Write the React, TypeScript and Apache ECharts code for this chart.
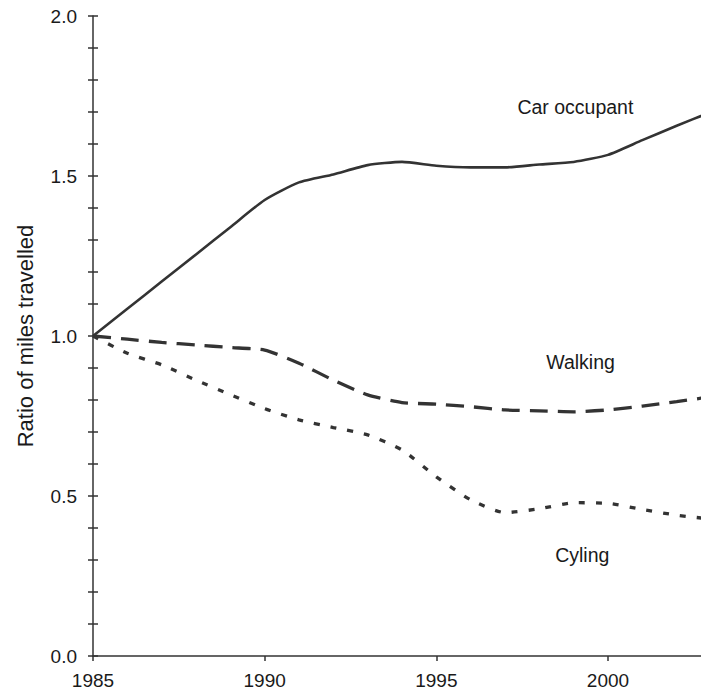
import React, { useEffect, useRef } from "react";
import * as echarts from "echarts";

const years = [1985, 1986, 1987, 1988, 1989, 1990, 1991, 1992, 1993, 1994, 1995, 1996, 1997, 1998, 1999, 2000, 2001, 2002, 2003];
const carOccupant = [1.0, 1.085, 1.17, 1.255, 1.34, 1.425, 1.48, 1.505, 1.534, 1.544, 1.532, 1.527, 1.527, 1.536, 1.544, 1.566, 1.612, 1.657, 1.7];
const walking = [1.0, 0.99, 0.98, 0.972, 0.964, 0.956, 0.915, 0.862, 0.816, 0.792, 0.787, 0.779, 0.769, 0.766, 0.763, 0.769, 0.781, 0.795, 0.81];
const cycling = [1.0, 0.946, 0.91, 0.862, 0.817, 0.773, 0.738, 0.714, 0.691, 0.644, 0.56, 0.488, 0.448, 0.46, 0.479, 0.477, 0.458, 0.44, 0.428];
const xTickLabels = [1985, 1990, 1995, 2000];
const seriesNames = ["Car occupant", "Walking", "Cyling"];
const labelAnchors = [
  [1999.05, 1.716],
  [1999.2, 0.919],
  [1999.25, 0.316],
];

const FONT = "'Liberation Sans', Arial, sans-serif";
const TEXT = "#1a1a1a";
const LINE = "#333";

export default function App() {
  const ref = useRef<HTMLDivElement>(null);
  useEffect(() => {
    if (!ref.current) return;
    const chart = echarts.init(ref.current, null, { renderer: "svg" });
    const pairs = (vals: number[]) => years.map((y, i) => [y, vals[i]]);
    const dashes = [undefined, [18, 10], [6, 11]];
    const widths = [2.6, 3.3, 3.3];
    const values = [carOccupant, walking, cycling];
    chart.setOption({
      animation: false,
      backgroundColor: "#fff",
      grid: { left: 93, right: -10, top: 16, bottom: 35, containLabel: false, outerBoundsMode: "none" },
      xAxis: {
        type: "value",
        min: 1985,
        max: 2003,
        interval: 5,
        axisLine: { show: true, lineStyle: { color: LINE, width: 1.5 } },
        axisTick: { show: true, length: 5, inside: false, customValues: xTickLabels, lineStyle: { color: LINE, width: 1.5 } },
        axisLabel: { customValues: xTickLabels, fontFamily: FONT, fontSize: 19, color: TEXT, margin: 15, formatter: (v: number) => String(v) },
        splitLine: { show: false },
      },
      yAxis: [
        {
          type: "value",
          min: 0,
          max: 2,
          interval: 0.5,
          position: "left",
          name: "Ratio of miles travelled",
          nameLocation: "middle",
          nameRotate: 90,
          nameGap: 57,
          nameTextStyle: { fontFamily: FONT, fontSize: 22, color: TEXT },
          axisLine: { show: true, lineStyle: { color: LINE, width: 1.5 } },
          axisTick: { show: true, length: 5, inside: false, lineStyle: { color: LINE, width: 1.5 } },
          minorTick: { show: true, splitNumber: 5, length: 5, lineStyle: { color: LINE, width: 1.5 } },
          axisLabel: { fontFamily: FONT, fontSize: 19, color: TEXT, margin: 16, formatter: (v: number) => v.toFixed(1) },
          splitLine: { show: false },
          minorSplitLine: { show: false },
        },
        {
          type: "value",
          min: 0,
          max: 2,
          interval: 0.5,
          position: "left",
          offset: 0,
          axisLine: { show: false },
          axisTick: { show: true, length: 5, inside: true, lineStyle: { color: LINE, width: 1.5 } },
          minorTick: { show: true, splitNumber: 5, length: 5, lineStyle: { color: LINE, width: 1.5 } },
          axisLabel: { show: false },
          splitLine: { show: false },
          minorSplitLine: { show: false },
        },
      ],
      series: seriesNames.map((name, i) => ({
        name,
        type: "line",
        yAxisIndex: 0,
        data: pairs(values[i]),
        smooth: 0.2,
        symbol: "none",
        clip: true,
        lineStyle: { color: LINE, width: widths[i], type: dashes[i] ?? "solid" },
        markPoint: {
          symbol: "circle",
          symbolSize: 0,
          silent: true,
          data: [
            {
              coord: labelAnchors[i],
              label: {
                show: true,
                position: "inside",
                formatter: name,
                fontFamily: FONT,
                fontSize: 19.5,
                color: TEXT,
              },
            },
          ],
        },
      })),
    });
    return () => chart.dispose();
  }, []);
  return <div ref={ref} style={{ position: "absolute", left: 0, top: 0, width: 701, height: 691 }} />;
}
